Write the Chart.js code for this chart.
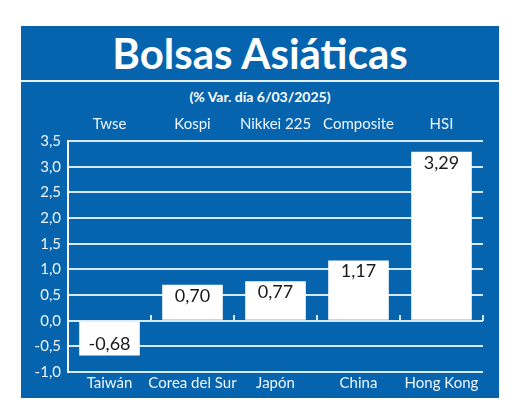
<!DOCTYPE html>
<html>
<head>
<meta charset="utf-8">
<script src="https://cdn.jsdelivr.net/npm/chart.js@4/dist/chart.umd.min.js"></script>
<style>
  html, body { margin: 0; padding: 0; background: #ffffff; width: 520px; height: 419px; overflow: hidden; }
  #panel { position: absolute; left: 21px; top: 26px; width: 478px; height: 372px; background: #0664ae; }
  #title { position: absolute; left: 0; top: 0; width: 478px; height: 54px; line-height: 54px; text-align: center;
           color: #ffffff; font-family: Lato, sans-serif; font-weight: bold; font-size: 42px; }
  #rule { position: absolute; left: 0; top: 54px; width: 478px; height: 2px; background: #e6f0fa; }
  #subtitle { position: absolute; left: 0; top: 61px; width: 478px; height: 20px; line-height: 20px; text-align: center;
              color: #ffffff; font-family: Lato, sans-serif; font-weight: bold; font-size: 14px; }
  #wrap { position: absolute; left: 0; top: 79px; width: 478px; height: 293px; }
</style>
</head>
<body>
<div id="panel">
  <div id="title">Bolsas Asiáticas</div>
  <div id="rule"></div>
  <div id="subtitle">(% Var. día 6/03/2025)</div>
  <div id="wrap"><canvas id="chart"></canvas></div>
</div>
<script>
const countries = ['Taiwán', 'Corea del Sur', 'Japón', 'China', 'Hong Kong'];
const indices = ['Twse', 'Kospi', 'Nikkei 225', 'Composite', 'HSI'];
const changes = [-0.68, 0.70, 0.77, 1.17, 3.29];
const yTicks = [-1.0, -0.5, 0.0, 0.5, 1.0, 1.5, 2.0, 2.5, 3.0, 3.5];

const fmt = v => v.toFixed(2).replace('.', ',');
const fmtTick = v => Number(v).toFixed(1).replace('.', ',');

const LINE = '#d6e9f8';
const LABEL = '#eef5fc';

const valueLabels = {
  id: 'valueLabels',
  afterDatasetsDraw(chart) {
    const ctx = chart.ctx;
    const meta = chart.getDatasetMeta(0);
    ctx.save();
    ctx.font = '18px Lato, sans-serif';
    ctx.fillStyle = '#1a1a1a';
    ctx.textAlign = 'center';
    ctx.textBaseline = 'middle';
    meta.data.forEach((bar, i) => {
      const v = changes[i];
      const y = v >= 0 ? bar.y + 11 : bar.y - 11;
      ctx.fillText(fmt(v), bar.x, y);
    });
    ctx.restore();
  }
};

new Chart(document.getElementById('chart'), {
  type: 'bar',
  data: {
    labels: countries,
    datasets: [{
      data: changes,
      backgroundColor: '#ffffff',
      borderWidth: 0,
      barPercentage: 0.73,
      categoryPercentage: 1
    }]
  },
  options: {
    responsive: true,
    maintainAspectRatio: false,
    animation: false,
    layout: { padding: { left: 0, right: 16, top: 0, bottom: 0 } },
    plugins: { legend: { display: false }, tooltip: { enabled: false } },
    scales: {
      x: {
        position: 'bottom',
        grid: { display: false, drawTicks: false },
        border: { display: false },
        ticks: { color: LABEL, font: { family: 'Lato', size: 15 }, padding: 2, maxRotation: 0, autoSkip: false },
        afterFit(s) { s.height = 26; }
      },
      xTop: {
        type: 'category',
        labels: indices,
        position: 'top',
        offset: true,
        grid: { display: false, drawTicks: false },
        border: { display: false },
        ticks: { color: LABEL, font: { family: 'Lato', size: 15 }, padding: 8, maxRotation: 0, autoSkip: false },
        afterFit(s) { s.height = 36; }
      },
      xZero: {
        type: 'category',
        labels: indices,
        position: { y: 0 },
        offset: true,
        grid: { offset: true, drawOnChartArea: false, drawTicks: true, tickLength: -6, color: LINE, lineWidth: 2 },
        border: { display: false },
        ticks: { display: false }
      },
      y: {
        min: -1,
        max: 3.5,
        afterBuildTicks(s) { s.ticks = yTicks.map(v => ({ value: v })); },
        grid: { color: LINE, lineWidth: 2, drawTicks: false },
        border: { display: true, color: '#ffffff', width: 2 },
        ticks: { color: LABEL, font: { family: 'Lato', size: 15 }, padding: 7, callback: v => fmtTick(v) },
        afterFit(s) { s.width = 47; }
      }
    }
  },
  plugins: [valueLabels]
});
</script>
</body>
</html>
